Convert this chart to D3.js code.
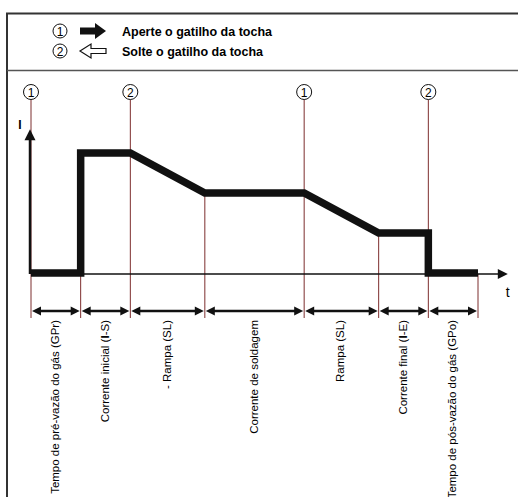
<!DOCTYPE html>
<html>
<head>
<meta charset="utf-8">
<script src="https://cdn.jsdelivr.net/npm/d3@7"></script>
<style>
html,body{margin:0;padding:0;background:#fff;}
svg{display:block;font-family:"Liberation Sans",Arial,sans-serif;}
</style>
</head>
<body>
<svg id="c" width="518" height="497"></svg>
<script>
// ---- data ----
const legendNums = ["1", "2"];
const legendTexts = ["Aperte o gatilho da tocha", "Solte o gatilho da tocha"];
const phaseLabels = [
  ["Tempo de pré-vazão do gás (GPr)"],
  ["Corrente inicial (", "I", "-S)"],
  ["- Rampa (SL)"],
  ["Corrente de soldagem"],
  ["Rampa (SL)"],
  ["Corrente final (", "I", "-E)"],
  ["Tempo de pós-vazão do gás (GPo)"]
];
const boundaries = [0, 1, 2, 3.5, 5.5, 7, 8, 9];
const currentT = [0, 1, 1, 2, 3.5, 5.5, 7, 8, 8, 9];
const currentI = [0, 0, 3, 3, 2, 2, 1, 1, 0, 0];
const triggerT = [0, 2, 5.5, 8];
const triggerN = ["1", "2", "1", "2"];
const axisLabels = ["I", "t"];

// ---- drawing ----
const svg = d3.select("#c");
const x = d3.scaleLinear().domain([0, 9]).range([31, 478]);
const y = d3.scaleLinear().domain([0, 3]).range([274, 154]);
const yTop = 3.62, xEnd = 9.6;
const dimY = 311, lineBottom = 318, circY = 92, circR = 7.5;
const red = "#7d2e2e";

// frame
svg.append("line").attr("x1", 7).attr("x2", 7).attr("y1", 13).attr("y2", 497)
  .attr("stroke", "#333").attr("stroke-width", 2);
svg.append("line").attr("x1", 6).attr("x2", 518).attr("y1", 13.5).attr("y2", 13.5)
  .attr("stroke", "#333").attr("stroke-width", 2);
svg.append("line").attr("x1", 7).attr("x2", 518).attr("y1", 70.5).attr("y2", 70.5)
  .attr("stroke", "#555").attr("stroke-width", 1.3);

// legend
const legY = [31, 51];
legendNums.forEach((n, i) => {
  const g = svg.append("g").attr("transform", `translate(0,${legY[i]})`);
  g.append("circle").attr("cx", 60).attr("cy", 0).attr("r", 7)
    .attr("fill", "none").attr("stroke", "#111").attr("stroke-width", 1);
  g.append("text").attr("x", 60).attr("y", 4.5).attr("text-anchor", "middle")
    .attr("font-size", 12).text(n);
  g.append("text").attr("x", 122).attr("y", 4.5).attr("font-size", 12.5)
    .attr("font-weight", "bold").text(legendTexts[i]);
});
// legend arrows
svg.append("path")
  .attr("d", "M80,27.5 L95,27.5 L95,23 L106,31 L95,39 L95,34.5 L80,34.5 Z")
  .attr("fill", "#111");
svg.append("path")
  .attr("d", "M106,48.5 L91,48.5 L91,44 L80,51 L91,58 L91,53.5 L106,53.5 Z")
  .attr("fill", "#fff").attr("stroke", "#111").attr("stroke-width", 1.2);

// red vertical lines at phase boundaries (not triggers)
boundaries.forEach(t => {
  if (triggerT.includes(t)) return;
  const lv = d3.min(currentI.filter((v, i) => currentT[i] === t));
  svg.append("line").attr("x1", x(t)).attr("x2", x(t))
    .attr("y1", y(lv)).attr("y2", lineBottom)
    .attr("stroke", red).attr("stroke-width", 1);
});
// trigger lines + circles
triggerT.forEach((t, i) => {
  svg.append("line").attr("x1", x(t)).attr("x2", x(t))
    .attr("y1", circY + circR).attr("y2", lineBottom)
    .attr("stroke", red).attr("stroke-width", 1);
  svg.append("circle").attr("cx", x(t)).attr("cy", circY).attr("r", circR)
    .attr("fill", "#fff").attr("stroke", "#111").attr("stroke-width", 1);
  svg.append("text").attr("x", x(t)).attr("y", circY + 4.5).attr("text-anchor", "middle")
    .attr("font-size", 12).text(triggerN[i]);
});

// axes
svg.append("line").attr("x1", x(0)).attr("x2", x(xEnd) - 8)
  .attr("y1", y(0)).attr("y2", y(0)).attr("stroke", "#111").attr("stroke-width", 1.5);
svg.append("path")
  .attr("d", `M${x(xEnd)},${y(0)} L${x(xEnd) - 10},${y(0) - 5} L${x(xEnd) - 10},${y(0) + 5} Z`)
  .attr("fill", "#111");
svg.append("line").attr("x1", x(0) - 1).attr("x2", x(0) - 1)
  .attr("y1", y(0)).attr("y2", y(yTop) + 9).attr("stroke", "#111").attr("stroke-width", 2.5);
svg.append("path")
  .attr("d", `M${x(0) - 1},${y(yTop)} L${x(0) - 6.5},${y(yTop) + 11} L${x(0) + 4.5},${y(yTop) + 11} Z`)
  .attr("fill", "#111");
svg.append("text").attr("x", 20).attr("y", y(yTop)).attr("font-size", 12)
  .attr("font-weight", "bold").attr("text-anchor", "middle").text(axisLabels[0]);
svg.append("text").attr("x", x(xEnd)).attr("y", y(0) + 23).attr("font-size", 14)
  .attr("text-anchor", "middle").text(axisLabels[1]);

// current curve
const line = d3.line().x(d => x(d[0])).y(d => y(d[1]) - 1);
svg.append("path").datum(currentT.map((t, i) => [t, currentI[i]]))
  .attr("d", line).attr("fill", "none").attr("stroke", "#111")
  .attr("stroke-width", 7.5).attr("stroke-linejoin", "miter").attr("stroke-linecap", "butt");

// dimension arrows
for (let i = 0; i < boundaries.length - 1; i++) {
  const a = x(boundaries[i]), b = x(boundaries[i + 1]);
  svg.append("line").attr("x1", a + 6).attr("x2", b - 6).attr("y1", dimY).attr("y2", dimY)
    .attr("stroke", "#111").attr("stroke-width", 2.5);
  svg.append("path").attr("d", `M${a + 1},${dimY} L${a + 10},${dimY - 4.5} L${a + 10},${dimY + 4.5} Z`).attr("fill", "#111");
  svg.append("path").attr("d", `M${b - 1},${dimY} L${b - 10},${dimY - 4.5} L${b - 10},${dimY + 4.5} Z`).attr("fill", "#111");
}

// phase labels
phaseLabels.forEach((parts, i) => {
  const cx = (x(boundaries[i]) + x(boundaries[i + 1])) / 2 - 1;
  const t = svg.append("text")
    .attr("transform", `translate(${cx + 4},320) rotate(-90)`)
    .attr("text-anchor", "end").attr("font-size", 11.5);
  parts.forEach((p, j) => {
    t.append("tspan").attr("font-weight", p === "I" ? "bold" : "normal").text(p);
  });
});
</script>
</body>
</html>
